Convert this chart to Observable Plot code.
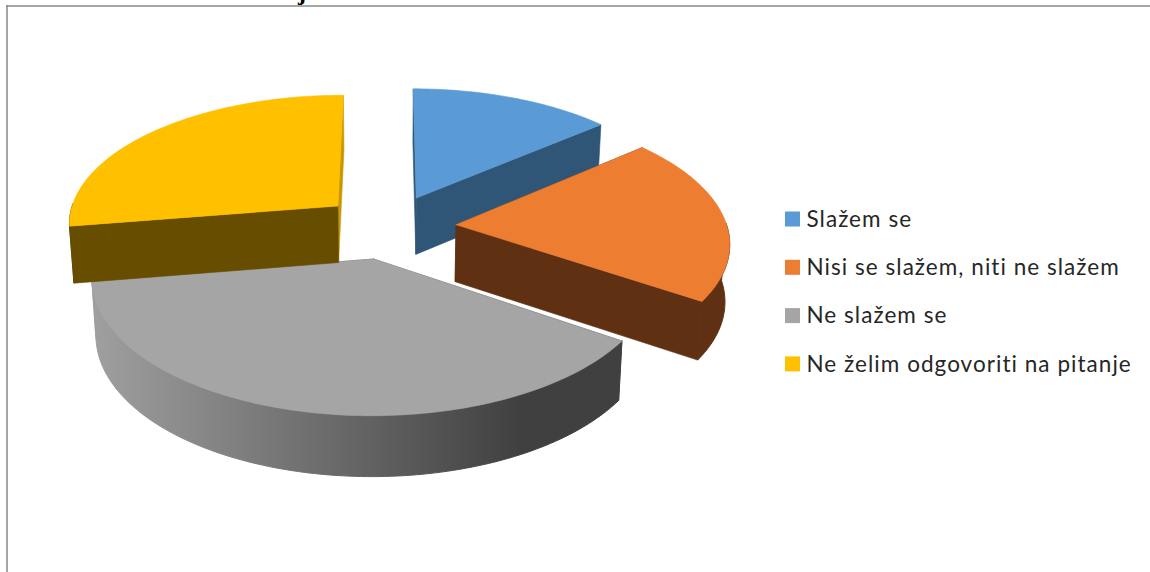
<!DOCTYPE html>
<html>
<head>
<meta charset="utf-8">
<script src="https://cdn.jsdelivr.net/npm/d3@7"></script>
<script src="https://cdn.jsdelivr.net/npm/@observablehq/plot@0.6"></script>
<style>html,body{margin:0;padding:0;background:#fff;overflow:hidden}svg{display:block;background:#fff}</style>
</head>
<body>
<div id="chart"></div>
<script>
const categories = ["Slažem se", "Nisi se slažem, niti ne slažem", "Ne slažem se", "Ne želim odgovoriti na pitanje"];
const values = [13.8, 20.6, 38.05, 27.55];
const topColors = ["#5b9bd5", "#ed7d31", "#a5a5a5", "#ffc000"];
const wallColors = ["#305677", "#5f3112", "url(#greyWall)", "#664d00"];

// 3D view of the pie: a homography of the pie's plane
const W = 1150, H = 572;
const view = {cx: 388, cy: 226, rx: 271, ry: 129, k: 0.122, depth: 57, depthPower: 0.4, converge: 0.986, explode: 0.25};
const project = (u, v, lower = false) => {
  const s = 1 / (1 + view.k * v);
  const x = view.cx + view.rx * u * s;
  const y = view.cy - view.ry * v * s;
  return lower ? [view.cx + (x - view.cx) * view.converge, y + view.depth * Math.pow(s, view.depthPower)] : [x, y];
};

const slices = d3.pie().sort(null).value(d => d)(values).map((a, i) => {
  const mid = (a.startAngle + a.endAngle) / 2;
  const ou = view.explode * Math.sin(mid), ov = view.explode * Math.cos(mid);
  const n = Math.ceil((a.endAngle - a.startAngle) / 0.02);
  const angles = d3.range(n + 1).map(j => a.startAngle + (a.endAngle - a.startAngle) * j / n);
  const near = angles.filter(t => Math.cos(t) < 0.02);
  const rim = (list, lower) => list.map(t => project(ou + Math.sin(t), ov + Math.cos(t), lower));
  const apex = lower => project(ou, ov, lower);
  const topRim = rim(angles, false), lowRim = rim(angles, true);
  const nearTop = rim(near, false), nearLow = rim(near, true);
  return {
    i,
    top: [apex(false), ...topRim, apex(false)],
    outer: near.length ? [...nearTop, ...nearLow.slice().reverse(), nearTop[0]] : [],
    startWall: [apex(false), topRim[0], lowRim[0], apex(true), apex(false)],
    endWall: [apex(false), topRim[n], lowRim[n], apex(true), apex(false)]
  };
});

const face = (pts, fill, width = 0.6) =>
  Plot.line(pts, {x: d => d[0], y: d => d[1], fill, stroke: fill, strokeWidth: width, curve: "linear"});

const sliceMarks = s => {
  const wall = wallColors[s.i];
  const endFill = s.i === 3 ? "#c99700" : wall;
  return [
    face(s.endWall, endFill, 0.6),
    face(s.outer, wall, 1),
    face(s.startWall, wall, 0.6),
    face(s.top, topColors[s.i], 0.6)
  ];
};

const gradientDefs = () => {
  const ns = "http://www.w3.org/2000/svg";
  const defs = document.createElementNS(ns, "defs");
  const g = document.createElementNS(ns, "linearGradient");
  g.setAttribute("id", "greyWall");
  g.setAttribute("gradientUnits", "userSpaceOnUse");
  g.setAttribute("x1", 90); g.setAttribute("x2", 520); g.setAttribute("y1", 0); g.setAttribute("y2", 0);
  [[0, "#a0a0a0"], [0.5, "#707070"], [1, "#404040"]].forEach(([o, c]) => {
    const st = document.createElementNS(ns, "stop");
    st.setAttribute("offset", o); st.setAttribute("stop-color", c);
    g.appendChild(st);
  });
  defs.appendChild(g);
  return defs;
};

const order = [2, 3, 0, 1];
const legendRows = categories.map((name, i) => ({name, color: topColors[i], y: 219 + 48.3 * i}));

const chart = Plot.plot({
  width: W, height: H, margin: 0,
  x: {domain: [0, W], range: [0, W], axis: null},
  y: {domain: [0, H], range: [0, H], axis: null},
  style: {background: "#fff", letterSpacing: "1.04px"},
  marks: [
    gradientDefs,
    Plot.ruleY([5.5], {x1: 6, x2: W, stroke: "#8a8a8a", strokeWidth: 1.5}),
    Plot.ruleX([6.5], {y1: 5, y2: H, stroke: "#8a8a8a", strokeWidth: 1.5}),
    Plot.text(["j"], {x: 302, y: 0, dy: -8.5, fontFamily: "Liberation Serif", fontWeight: "bold", fontSize: 24, fill: "#000", lineAnchor: "middle"}),
    ...order.flatMap(i => sliceMarks(slices[i])),
    Plot.rect(legendRows, {x1: () => 785, x2: () => 800, y1: d => d.y - 7.5, y2: d => d.y + 7.5, fill: d => d.color, inset: 0}),
    Plot.text(legendRows, {x: () => 806, y: d => d.y, text: "name", textAnchor: "start", fontFamily: "Lato", fontSize: 22.5, fill: "#262626", lineAnchor: "middle"})
  ],
  color: {type: "identity"}
});
document.getElementById("chart").appendChild(chart);
</script>
</body>
</html>
